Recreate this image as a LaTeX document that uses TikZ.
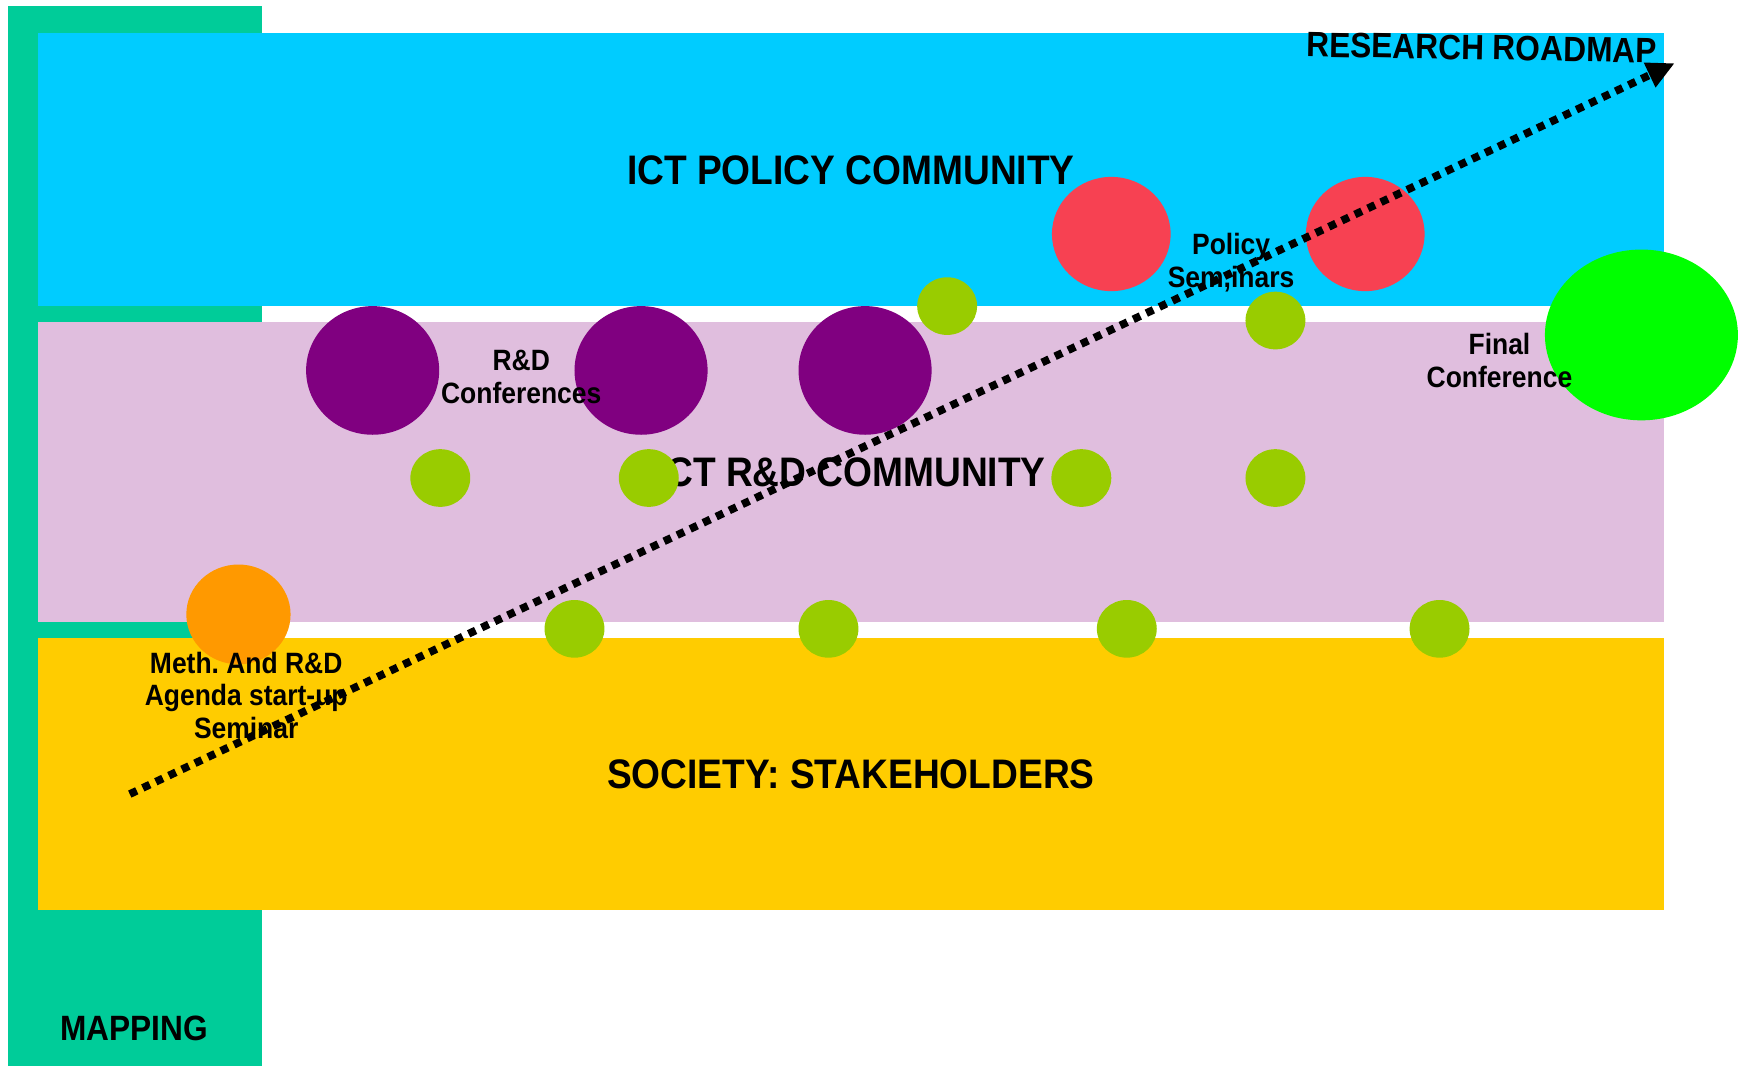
\documentclass[tikz,border=0pt]{standalone}
\usepackage{fontspec}
\setmainfont{Liberation Sans}[FakeStretch=0.9]
\usepackage{tikz}
\usetikzlibrary{arrows.meta, positioning, shapes.geometric}
\definecolor{mapgreen}{RGB}{0,204,153}
\definecolor{policyblue}{RGB}{0,204,255}
\definecolor{rdlilac}{RGB}{224,190,222}
\definecolor{societyyellow}{RGB}{255,204,0}
\definecolor{confpurple}{RGB}{128,0,128}
\definecolor{semred}{RGB}{247,65,82}
\definecolor{finalgreen}{RGB}{0,255,0}
\definecolor{startorange}{RGB}{255,153,0}
\definecolor{meetgreen}{RGB}{153,204,0}
\tikzset{%
	mapbar/.style={rectangle, fill=mapgreen, inner sep=0pt, anchor=north west,%
		minimum width=229pt, minimum height=956pt},
	band/.style={rectangle, inner sep=0pt, anchor=north west, minimum width=1466pt,%
		font=\fontsize{37.2}{44}\selectfont\bfseries},
	bandtitle/.style={inner sep=0pt, font=\fontsize{31.7}{38}\selectfont\bfseries},
	conf/.style={ellipse, fill=confpurple, inner sep=0pt, minimum width=120pt, minimum height=116pt},
	sem/.style={ellipse, fill=semred, inner sep=0pt, minimum width=107pt, minimum height=103pt},
	meet/.style={ellipse, fill=meetgreen, inner sep=0pt, minimum width=54pt, minimum height=52pt},
	final/.style={ellipse, fill=finalgreen, inner sep=0pt, minimum width=174pt, minimum height=154pt},
	start/.style={ellipse, fill=startorange, inner sep=0pt, minimum width=94pt, minimum height=90pt},
	caption/.style={align=center, inner sep=0pt, font=\fontsize{26.5}{29.5}\selectfont\bfseries},
	roadmap/.style={-{Triangle[length=25pt, width=23pt]}, line width=7pt, dash pattern=on 7pt off 6pt}
}
\begin{document}
\begin{tikzpicture}[x=1pt, y=-1pt]
	\useasboundingbox[fill=white] (0,0) rectangle (1568,961);

	\node[mapbar] (mapping) at (7,5) {};
	\node[band, fill=policyblue, minimum height=246pt] (policy) at (34,30) {ICT POLICY COMMUNITY};
	\node[band, fill=rdlilac, minimum height=271pt] (rd) at (34,290) {ICT R\&D COMMUNITY};
	\node[band, fill=societyyellow, minimum height=245pt] (society) at (34,575) {SOCIETY: STAKEHOLDERS};
	\node[bandtitle] (map-label) at (121,927) {MAPPING};

	\node[conf] (conf-1) at (336,334) {};
	\node[conf] (conf-2) at (578,334) {};
	\node[conf] (conf-3) at (780,334) {};
	\node[sem] (sem-1) at (1002,211) {};
	\node[sem] (sem-2) at (1231,211) {};
	\node[final] (final) at (1480,302) {};
	\node[start] (start) at (215,554) {};

	\node[meet] (meet-1) at (854,276) {};
	\node[meet] (meet-2) at (1150,289) {};
	\node[meet] (meet-3) at (397,431) {};
	\node[meet] (meet-4) at (585,431) {};
	\node[meet] (meet-5) at (975,431) {};
	\node[meet] (meet-6) at (1150,431) {};
	\node[meet] (meet-7) at (518,567) {};
	\node[meet] (meet-8) at (747,567) {};
	\node[meet] (meet-9) at (1016,567) {};
	\node[meet] (meet-10) at (1298,567) {};

	\node[caption] (conf-label) at (470,340) {R\&D\\Conferences};
	\node[caption] (sem-label) at (1110,237) {Policy\\Sem,inars};
	\node[caption] (final-label) at (1352,325) {Final\\Conference};
	\node[caption] (start-label) at (222,627) {Meth.\ And R\&D\\Agenda start-up\\Seminar};
	\node[bandtitle, rotate=-1] (road-label) at (1336,43) {RESEARCH ROADMAP};

	\coordinate (road-start) at (117,716);
	\coordinate (road-end) at (1510,57);
	\draw [roadmap] (road-start) -- (road-end);
\end{tikzpicture}
\end{document}
